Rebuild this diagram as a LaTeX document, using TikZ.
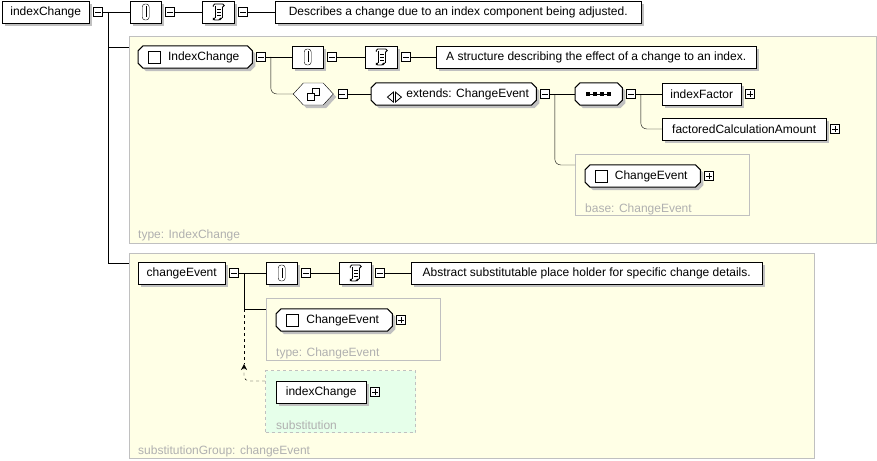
\documentclass[tikz,border=0pt]{standalone}
\usepackage{fontspec}
\setmainfont{Liberation Sans}
\usepackage{tikz}
\usetikzlibrary{shapes.symbols, arrows.meta, positioning, shadows}
\definecolor{XS_Note}{HTML}{FFFFE6}
\definecolor{XS_Subst}{HTML}{E6FFEA}
\definecolor{XS_Frame}{HTML}{C0C0C0}
\definecolor{XS_Label}{HTML}{B0B0B0}
\definecolor{XS_Shadow}{HTML}{C0C0C0}
\pgfdeclarelayer{back}
\pgfsetlayers{back,main}
% outline with cut corners round a node, offset by (#2,#3)
\newcommand\chamfpath[3]{([shift={(5pt+#2,#3)}]#1.north west) -- ([shift={(-5pt+#2,#3)}]#1.north east)
    -- ([shift={(#2,-5pt+#3)}]#1.north east) -- ([shift={(#2,5pt+#3)}]#1.south east)
    -- ([shift={(-5pt+#2,#3)}]#1.south east) -- ([shift={(5pt+#2,#3)}]#1.south west)
    -- ([shift={(#2,5pt+#3)}]#1.south west) -- ([shift={(#2,-5pt+#3)}]#1.north west) -- cycle}

\begin{document}
\begin{tikzpicture}[x=1pt, y=-1pt, line width=1pt,
    every node/.style={font=\fontsize{12}{14}\selectfont},
    shade3/.style={drop shadow={shadow xshift=3pt, shadow yshift=-3pt, fill=XS_Shadow, opacity=1}},
    panel/.style={draw=XS_Frame, fill=XS_Note, line width=1pt, anchor=north west, inner sep=0pt},
    lbl/.style={text=XS_Label, anchor=west, inner sep=0pt},
    elem/.style={draw, fill=white, shade3, anchor=west, minimum height=22, inner sep=0pt},
    cut/.style={anchor=west, minimum height=22, inner sep=0pt},
    cplx/.style={cut, execute at begin node={\hspace*{17pt}},
        path picture={\draw ([xshift=10pt, yshift=-6pt]path picture bounding box.west) rectangle ++(12pt,12pt);}},
    annbox/.style={elem, minimum width=31, path picture={
        \begin{scope}[shift={(path picture bounding box.center)}, x=1pt, y=1pt]
            \draw[rounded corners=3pt] (-3.5,-8) rectangle (3.5,8);
            \draw (0,-5) -- (0,5.5);
        \end{scope}}},
    docbox/.style={elem, minimum width=32, path picture={
        \begin{scope}[shift={(path picture bounding box.center)}, x=1pt, y=1pt, line width=0.8pt]
            \draw (-3,6) -- (-3,-6) (4,5) -- (4,-6);
            \draw[rounded corners=1.5pt] (-5,5) -- (-5,8) -- (6,8) -- (6,5) -- (4,5);
            \draw[rounded corners=1.5pt] (-3,-6) -- (-5,-6) -- (-5,-8) -- (2,-8) -- (2,-6) -- (4,-6);
            \foreach \yy in {3,0,-3} \draw (-1,\yy) -- (2.5,\yy);
        \end{scope}}},
    minusbox/.style={draw, fill=white, minimum size=9, inner sep=0pt, right=4pt of #1,
        path picture={\draw ([xshift=-3pt]path picture bounding box.center) -- ([xshift=3pt]path picture bounding box.center);}},
    plusbox/.style={draw, fill=white, minimum size=9, inner sep=0pt, right=4pt of #1,
        path picture={\draw ([xshift=-3pt]path picture bounding box.center) -- ([xshift=3pt]path picture bounding box.center)
            ([yshift=-3pt]path picture bounding box.center) -- ([yshift=3pt]path picture bounding box.center);}}
]
    \useasboundingbox (0,0) rectangle (877,460);

    % Panels
    \begin{pgfonlayer}{back}
    \node[panel, minimum width=747, minimum height=207] (boxA) at (129,36) {};
    \node[panel, minimum width=685, minimum height=205] (boxB) at (129,253) {};
    \node[panel, minimum width=174, minimum height=61] (baseBox) at (575,154) {};
    \node[panel, minimum width=174, minimum height=62] (typeBox) at (266,298) {};
    \node[panel, fill=XS_Subst, dashed, minimum width=150, minimum height=62] (subBox) at (265,370) {};
    \end{pgfonlayer}

    \node[lbl] (typeLblA) at (138,235) {type: IndexChange};
    \node[lbl] (baseLbl) at (585,209) {base: ChangeEvent};
    \node[lbl] (typeLblB) at (276,353) {type: ChangeEvent};
    \node[lbl] (subLbl) at (276,425) {substitution};
    \node[lbl] (groupLbl) at (138,451) {substitutionGroup: changeEvent};

    % Element indexChange
    \node[elem, minimum width=87] (ic) at (2,12) {indexChange};
    \node[minusbox=ic] (icT) {};
    \node[annbox] (icAnn) at (130,12) {};
    \node[minusbox=icAnn] (icAnnT) {};
    \node[docbox] (icDoc) at (202,12) {};
    \node[minusbox=icDoc] (icDocT) {};
    \node[elem, minimum width=366] (icTxt) at (275,12) {Describes a change due to an index component being adjusted.};

    % Complex type IndexChange
    \node[cplx, minimum width=114] (ct) at (138,57) {IndexChange};
    \node[minusbox=ct] (ctT) {};
    \node[annbox] (ctAnn) at (292,57) {};
    \node[minusbox=ctAnn] (ctAnnT) {};
    \node[docbox] (ctDoc) at (365,57) {};
    \node[minusbox=ctDoc] (ctDocT) {};
    \node[elem, minimum width=320] (ctTxt) at (436,57) {A structure describing the effect of a change to an index.};

    \node[elem, signal, signal to=west and east, signal pointer angle=95, minimum width=40,
        path picture={\begin{scope}[shift={(path picture bounding box.center)}, x=1pt, y=1pt]
            \draw (-1,-1) rectangle (6,6);
            \draw[fill=white] (-6,-6) rectangle (1,1);
        \end{scope}}] (cc) at (293,94) {};
    \node[minusbox=cc] (ccT) {};
    \node[cut, minimum width=165, execute at begin node={\hspace*{28pt}},
        path picture={\begin{scope}[shift={(path picture bounding box.west)}, x=1pt, y=1pt, line width=0.8pt]
            \draw (9,0) -- (15,5) -- (15,-5) -- cycle;
            \draw (17,5) -- (23,0) -- (17,-5) -- cycle;
        \end{scope}}] (ext) at (371,94) {extends: ChangeEvent};
    \node[minusbox=ext] (extT) {};
    \node[cut, minimum width=47,
        path picture={\begin{scope}[shift={(path picture bounding box.center)}, x=1pt, y=1pt]
            \draw (-12,0) -- (12,0);
            \foreach \sx in {-10.5,-3.5,3.5,10.5} \fill (\sx-2,-2) rectangle (\sx+2,2);
        \end{scope}}] (seq) at (575,94) {};
    \node[minusbox=seq] (seqT) {};
    \node[elem, minimum width=79] (iFac) at (662,94) {indexFactor};
    \node[plusbox=iFac] (iFacT) {};
    \node[elem, minimum width=164] (fCA) at (662,129) {factoredCalculationAmount};
    \node[plusbox=fCA] (fCAT) {};
    \node[cplx, minimum width=115] (ceBase) at (585,176) {ChangeEvent};
    \node[plusbox=ceBase] (ceBaseT) {};

    % Element changeEvent
    \node[elem, minimum width=87] (ce) at (138,273) {changeEvent};
    \node[minusbox=ce] (ceT) {};
    \node[annbox] (ceAnn) at (266,273) {};
    \node[minusbox=ceAnn] (ceAnnT) {};
    \node[docbox] (ceDoc) at (339,273) {};
    \node[minusbox=ceDoc] (ceDocT) {};
    \node[elem, minimum width=351] (ceTxt) at (411,273) {Abstract substitutable place holder for specific change details.};
    \node[cplx, minimum width=116] (ceType) at (276,320) {ChangeEvent};
    \node[plusbox=ceType] (ceTypeT) {};
    \node[elem, minimum width=90] (sub) at (276,392) {indexChange};
    \node[plusbox=sub] (subT) {};

    % Cut-corner outlines, behind their texts
    \begin{pgfonlayer}{back}
    \foreach \n in {ct, ext, seq, ceBase, ceType} {
        \fill[XS_Shadow] \chamfpath{\n}{3pt}{-3pt};
        \draw[fill=white, line width=1pt] \chamfpath{\n}{0pt}{0pt};
    }
    \end{pgfonlayer}

    % Connectors
    \draw (icT) -- (icAnn);
    \draw (icAnnT) -- (icDoc);
    \draw (icDocT) -- (icTxt);
    \draw ([xshift=5pt]icT.east) |- ([yshift=-11pt]boxA.north west);
    \draw ([xshift=5pt]icT.east) |- ([yshift=-10pt]boxB.north west);

    \draw (ctT) -- (ctAnn);
    \draw (ctAnnT) -- (ctDoc);
    \draw (ctDocT) -- (ctTxt);
    \draw[rounded corners=6pt] ([xshift=5pt]ctT.east) |- (cc.west);
    \draw (ccT) -- (ext);
    \draw (extT) -- (seq);
    \draw[rounded corners=6pt] ([xshift=5pt]extT.east) |- ([yshift=-11pt]baseBox.north west);
    \draw (seqT) -- (iFac);
    \draw[rounded corners=6pt] ([xshift=5pt]seqT.east) |- (fCA.west);

    \coordinate (ceFork) at (244,309);
    \coordinate (subTip) at (244,364);
    \draw (ceT) -- (ceAnn);
    \draw (ceAnnT) -- (ceDoc);
    \draw (ceDocT) -- (ceTxt);
    \draw (ceT.east) -| (ceFork) -- (typeBox.west |- ceFork);
    \draw[dashed] (ceFork) -- (subTip);
    \draw[dashed, rounded corners=5pt, -{Stealth[length=6pt, width=6pt]}] ([yshift=-11pt]subBox.north west) -| (subTip);
\end{tikzpicture}
\end{document}
